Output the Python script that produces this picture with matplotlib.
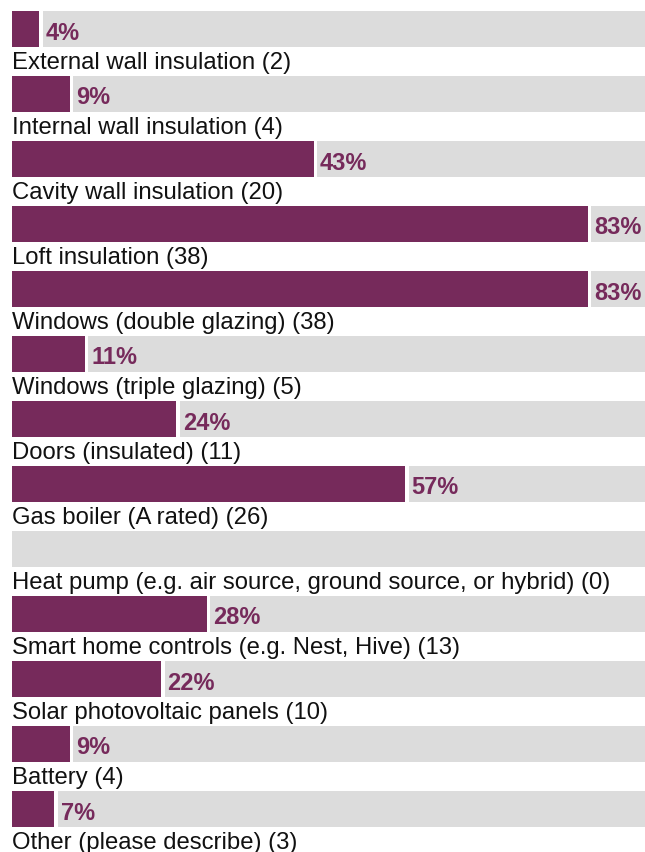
import matplotlib
matplotlib.use("Agg")
import matplotlib.pyplot as plt
import numpy as np

# Survey responses: number of respondents per measure (n = 46)
MEASURES = [
    "External wall insulation",
    "Internal wall insulation",
    "Cavity wall insulation",
    "Loft insulation",
    "Windows (double glazing)",
    "Windows (triple glazing)",
    "Doors (insulated)",
    "Gas boiler (A rated)",
    "Heat pump (e.g. air source, ground source, or hybrid)",
    "Smart home controls (e.g. Nest, Hive)",
    "Solar photovoltaic panels",
    "Battery",
    "Other (please describe)",
]
COUNTS = [2, 4, 20, 38, 38, 5, 11, 26, 0, 13, 10, 4, 3]
TOTAL = 46

PURPLE = "#762a5b"
TRACK = "#dcdcdc"

W, H, DPI = 645, 852, 100
PX_PER_PCT = 7.015         # horizontal scale of the bars
ROW_PX = 65                # vertical pitch between rows
FIRST_CENTER_PX = 29       # centre of the first bar
BAR_PX = 36                # bar thickness
GAP_PX = 3.5               # white separator at the end of each bar

plt.rcParams["font.family"] = ["Liberation Sans", "DejaVu Sans"]

pct = np.array(COUNTS) / TOTAL * 100
n = len(MEASURES)

fig = plt.figure(figsize=(W / DPI, H / DPI), dpi=DPI)
left = 12 / W
ax = fig.add_axes([left, 0, 1 - left, 1])
xmax = (W - 12) / PX_PER_PCT
ax.set_xlim(0, xmax)
ax.set_ylim((H - FIRST_CENTER_PX) / ROW_PX, -FIRST_CENTER_PX / ROW_PX)
ax.axis("off")

rows = np.arange(n)
bar_h = BAR_PX / ROW_PX
gap = GAP_PX / PX_PER_PCT

# grey track behind every bar
ax.barh(rows, xmax, height=bar_h, color=TRACK, linewidth=0)

for i, (name, cnt, p) in enumerate(zip(MEASURES, COUNTS, pct)):
    if cnt > 0:
        ax.barh(i, p - gap, height=bar_h, color=PURPLE, linewidth=0)
        ax.barh(i, gap, left=p - gap, height=bar_h, color="white", linewidth=0)
        ax.annotate(f"{p:.0f}%", xy=(p, i + 10.5 / ROW_PX),
                    xytext=(2.2, 0), textcoords="offset points",
                    ha="left", va="baseline", fontsize=17,
                    fontweight="bold", color=PURPLE)
    ax.text(0, i + 40 / ROW_PX, f"{name} ({cnt})", ha="left",
            va="baseline", fontsize=17.2, color="#111111")

fig.savefig("out.png", dpi=DPI, facecolor="white")
